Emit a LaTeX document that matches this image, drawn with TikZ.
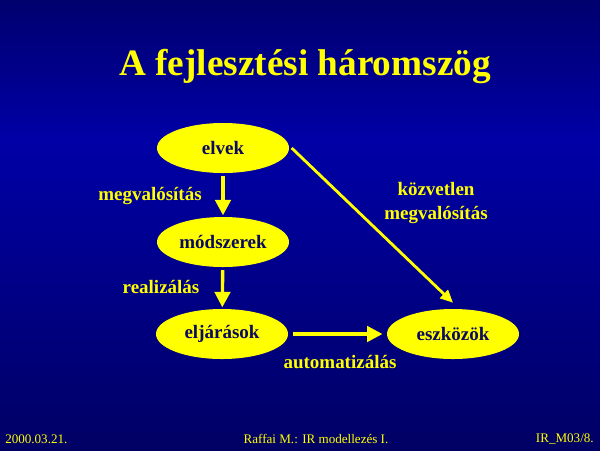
\documentclass[tikz,border=0pt]{standalone}
\usepackage{fontspec}
\setmainfont{Liberation Serif}
\usetikzlibrary{arrows.meta,shapes.geometric}
\definecolor{navyt}{HTML}{00006E}
\definecolor{bluem}{HTML}{0000A6}
\definecolor{navyb}{HTML}{000064}
\definecolor{textnavy}{HTML}{0A0A60}
\definecolor{ylw}{HTML}{FFFF00}
\begin{document}
\begin{tikzpicture}[x=0.025cm,y=-0.025cm,
  ell/.style={ellipse, fill=ylw, minimum width=3.3cm, minimum height=1.25cm, inner sep=0pt, text=textnavy, font=\bfseries\fontsize{13.5}{16}\selectfont},
  lbl/.style={text=ylw, inner sep=0pt, font=\bfseries\fontsize{13.5}{17}\selectfont},
  foot/.style={text=ylw, inner sep=0pt, font=\fontsize{9.3}{11}\selectfont},
  arr/.style={draw=ylw, line width=2.4pt, -{Triangle[length=11pt,width=11pt]}},
  darr/.style={draw=ylw, line width=2pt, -{Triangle[length=9pt,width=8pt]}}]
\useasboundingbox (0,0) rectangle (600,450);
\shade[top color=navyt,bottom color=bluem] (0,0) rectangle (600,140);
\shade[top color=bluem,bottom color=navyb] (0,140) rectangle (600,450);
\node[text=ylw, font=\bfseries\fontsize{26.5}{30}\selectfont] (title) at (305,66) {A fejlesztési háromszög};
\node[ell] (elvek) at (223,148) {elvek};
\node[ell] (modszerek) at (223,242) {módszerek};
\node[ell] (eljarasok) at (222,334) {eljárások};
\node[ell] (eszkozok) at (453,334) {eszközök};
\draw[arr, shorten <=2pt, shorten >=1pt] (elvek) -- (modszerek);
\draw[arr, shorten <=2pt, shorten >=1pt] (modszerek) -- (eljarasok);
\draw[arr, shorten <=3pt, shorten >=3pt] (eljarasok) -- (eszkozok);
\draw[darr] ([xshift=0.06cm]elvek.east) -- ([yshift=0.15cm]eszkozok.north);
\node[lbl] (l1) at (150,196) {megvalósítás};
\node[lbl] (l2) at (161,287) {realizálás};
\node[lbl] (l3) at (340,362) {automatizálás};
\node[lbl, align=center] (l4) at (436,203) {közvetlen\\megvalósítás};
\node[foot, anchor=west] (date) at (5,439) {2000.03.21.};
\node[foot] (author) at (316,439) {Raffai M.: IR modellezés I.};
\node[foot, anchor=east] (code) at (594,439) {IR\_M03/8.};
\end{tikzpicture}
\end{document}
